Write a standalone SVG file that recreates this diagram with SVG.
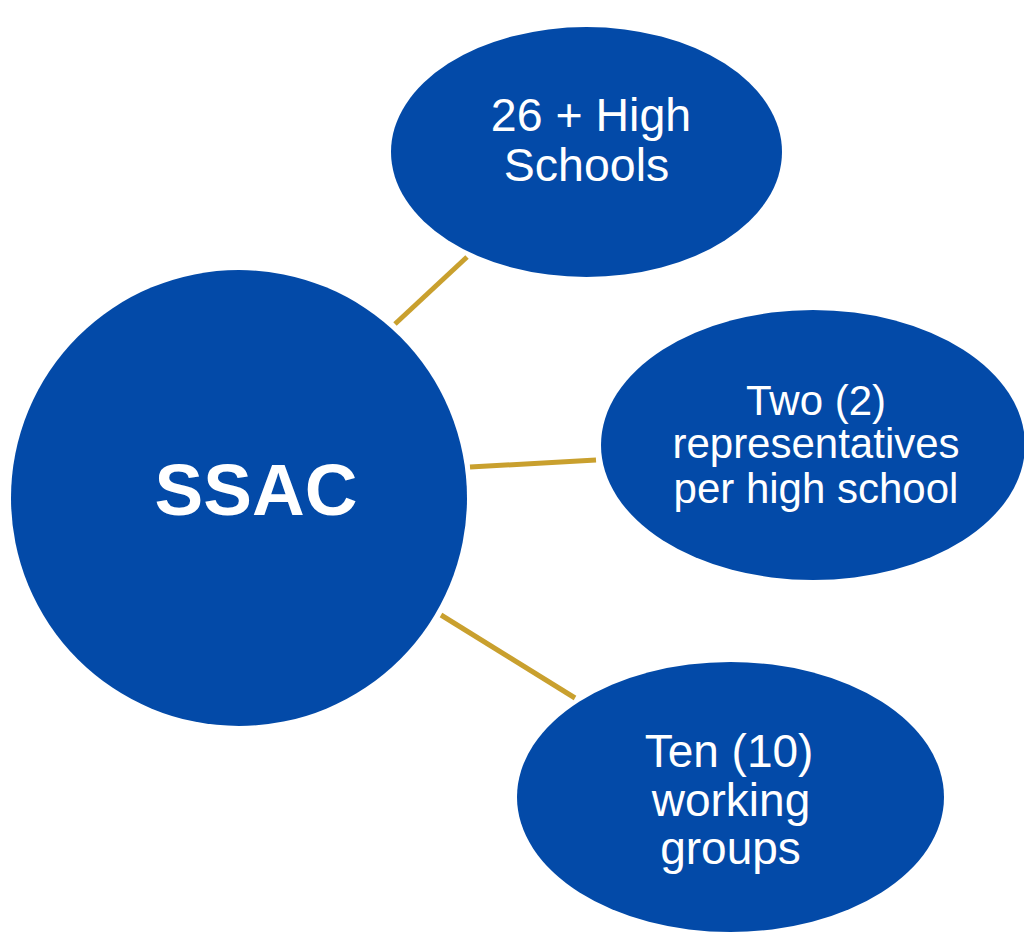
<svg xmlns="http://www.w3.org/2000/svg" width="1024" height="932" viewBox="0 0 1024 932">
<style>
.node{fill:#034AA8}
.conn{stroke:#C9A02E;stroke-width:5;stroke-linecap:butt;fill:none}
.t{font-family:"Liberation Sans",Arial,sans-serif;fill:#fff;text-anchor:middle}
</style>
<rect width="1024" height="932" fill="#fff"/>
<g id="connectors">
<line class="conn" x1="395" y1="324" x2="467" y2="257"/>
<line class="conn" x1="470" y1="467" x2="596" y2="460"/>
<line class="conn" x1="441" y1="615" x2="575" y2="698"/>
</g>
<g id="ssac">
<circle class="node" cx="239" cy="498" r="228"/>
<text class="t" x="256" y="515" font-size="73" font-weight="bold">SSAC</text>
</g>
<g id="high-schools">
<ellipse class="node" cx="586.5" cy="152" rx="195.5" ry="125"/>
<text class="t" font-size="46.5"><tspan x="591" y="131">26 + High</tspan><tspan x="586.5" y="181">Schools</tspan></text>
</g>
<g id="representatives">
<ellipse class="node" cx="813" cy="445" rx="212" ry="135"/>
<text class="t" font-size="42"><tspan x="816" y="415">Two (2)</tspan><tspan x="816" y="458">representatives</tspan><tspan x="816" y="503">per high school</tspan></text>
</g>
<g id="working-groups">
<ellipse class="node" cx="730.5" cy="797" rx="213.5" ry="135"/>
<text class="t" font-size="46"><tspan x="729" y="767">Ten (10)</tspan><tspan x="731" y="816">working</tspan><tspan x="730.5" y="864">groups</tspan></text>
</g>
</svg>
